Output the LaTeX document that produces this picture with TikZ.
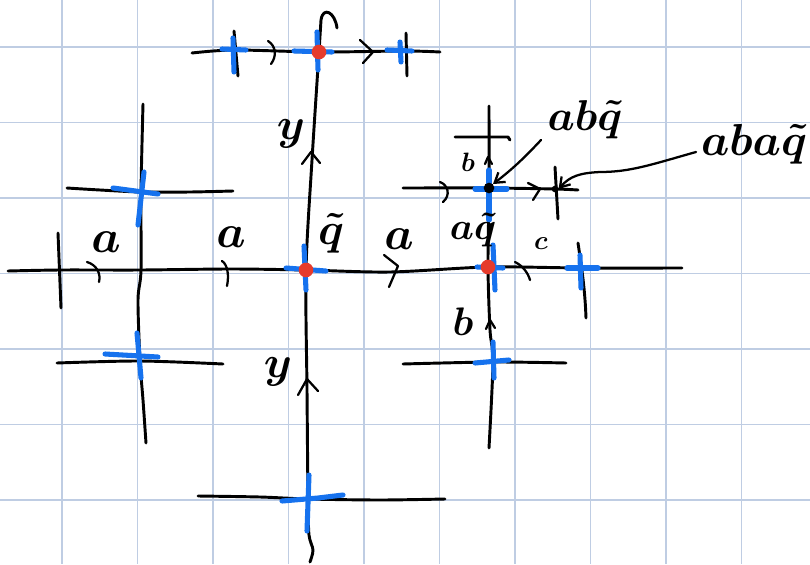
\documentclass[tikz,border=0pt]{standalone}
\usepackage{graphicx}
\usetikzlibrary{arrows.meta}
\definecolor{gridc}{HTML}{BFCDE3}
\definecolor{penblue}{HTML}{1672EE}
\definecolor{penred}{HTML}{E63B2C}
\newcommand{\lbl}[2]{\scalebox{#1}{\boldmath$#2$}}
\begin{document}
\begin{tikzpicture}[x=0.75pt,y=-0.75pt,
  ink/.style={line width=2.2pt,line cap=round,line join=round,black},
  thinink/.style={line width=1.7pt,line cap=round,line join=round,black},
  bluepen/.style={line width=3.8pt,line cap=round,penblue},
  reddot/.style={circle,fill=penred,inner sep=0pt,minimum size=11pt},
  blackdot/.style={circle,fill=black,inner sep=0pt,minimum size=8pt},
  lab/.style={inner sep=0pt,font=\fontsize{24.88}{30}\selectfont},
  pointer/.style={thinink,-{Straight Barb[length=7pt,width=9pt]}}]
\useasboundingbox (0,0) rectangle (810,564);
\fill[white] (0,0) rectangle (810,564);
% grid paper
\foreach \i in {0,...,9} \draw[gridc,line width=0.8pt] ({62+75.5*\i},0) -- ({62+75.5*\i},564);
\foreach \j in {0,...,6} \draw[gridc,line width=0.8pt] (0,{47+75.5*\j}) -- (810,{47+75.5*\j});

% vertices
\coordinate (T) at (319,52);
\coordinate (O) at (306,270);
\coordinate (A) at (488,267);
\coordinate (D) at (489,188);
\coordinate (E) at (555,189);
\coordinate (Bt) at (308,499);
\coordinate (L1) at (141,192);
\coordinate (L2) at (140,361);
\coordinate (R2) at (493,362);
\coordinate (RC) at (582,268);
\coordinate (TL) at (234,50);
\coordinate (TR) at (405,51);

% main horizontal line
\draw[ink] plot[smooth] coordinates {(8,271) (60,270) (141,270) (230,269) (O) (390,272) (A) (RC) (682,268)};
% central column
\draw[ink] (337,28) .. controls (335,12) and (323,6) .. (321,20) -- (T);
\draw[ink] plot[smooth] coordinates {(T) (312,160) (O) (307,390) (Bt) (309,535) (313,550) (310,562)};
\draw[thinink] (307,447) -- (307,455);
% top line
\draw[ink] plot[smooth] coordinates {(192,53) (TL) (T) (TR) (440,52)};
\draw[ink] (234,31) -- (238,76);
\draw[ink] (406,33) -- (407,76);
\draw[thinink] (268,41) .. controls (276,46) and (277,56) .. (271,64);
\draw[thinink] (360,40) -- (373,52) -- (363,63);
% left column
\draw[ink] plot[smooth] coordinates {(143,104) (L1) (141,270) (138,300) (L2) (143,400) (146,443)};
\draw[ink] plot[smooth] coordinates {(67,188) (100,190) (L1) (190,192) (233,191)};
\draw[ink] plot[smooth] coordinates {(57,363) (L2) (223,364)};
\draw[ink] (58,233) -- (61,308);
% marks on main line
\draw[thinink] (87,262) .. controls (97,265) and (101,274) .. (99,282);
\draw[thinink] (222,261) .. controls (228,265) and (229,276) .. (227,286);
\draw[thinink] (384,255) -- (398,266) -- (389,287);
\draw[thinink] (515,262) .. controls (523,266) and (528,273) .. (530,280);
% right column
\draw[ink] plot[smooth] coordinates {(489,106) (D) (A) (490,330) (R2) (489,448)};
\draw[ink] (455,137) -- (508,137) -- (510,140);
\draw[ink] plot[smooth] coordinates {(403,188) (D) (E) (578,190)};
\draw[thinink] (440,182) .. controls (448,185) and (451,195) .. (443,202);
\draw[thinink] (528,183) -- (540,189) -- (533,200);
\draw[ink] (555,167) -- (558,219);
\draw[thinink] (485,164) -- (488,157) -- (492,164);
\draw[ink] plot[smooth] coordinates {(403,364) (R2) (566,363)};
\draw[thinink] (486,329) -- (490,320) -- (495,328);
\draw[ink] (578,243) .. controls (582,270) and (585,290) .. (586,318);
% central arrows
\draw[thinink] (302,164) -- (311,152) -- (320,163);
\draw[thinink] (298,395) -- (307,379) -- (318,391);
% bottom line
\draw[ink] plot[smooth] coordinates {(198,496) (260,497) (Bt) (380,500) (445,499)};

% blue crosses
\draw[bluepen] (233,38) -- (234,72); \draw[bluepen] (222,49) -- (246,50);
\draw[bluepen] (317,32) -- (318,70); \draw[bluepen] (294,51) -- (332,52);
\draw[bluepen] (400,42) -- (401,62); \draw[bluepen] (387,50) -- (412,51);
\draw[bluepen] (144,172) -- (138,225); \draw[bluepen] (113,188) -- (158,194);
\draw[bluepen] (137,333) -- (141,378); \draw[bluepen] (105,354) -- (158,357);
\draw[bluepen] (304,246) -- (306,290); \draw[bluepen] (286,268) -- (326,271);
\draw[bluepen] (493,245) -- (495,290); \draw[bluepen] (477,267) -- (503,268);
\draw[bluepen] (580,255) -- (581,288); \draw[bluepen] (567,268) -- (598,268);
\draw[bluepen] (489,170) -- (489,220); \draw[bluepen] (475,189) -- (507,189);
\draw[bluepen] (493,342) -- (494,378); \draw[bluepen] (475,363) -- (509,360);
\draw[bluepen] (309,475) -- (307,531); \draw[bluepen] (282,501) -- (318,498) -- (343,495);

% dots
\node[reddot] (dT) at (T) {};
\node[reddot] (dO) at (O) {};
\node[reddot] (dA) at (A) {};
\node[blackdot] (dD) at (D) {};
\node[circle,fill=black,inner sep=0pt,minimum size=5pt] (dE) at (E) {};

% labels
\node[lab] (la1) at (106,242) {\lbl{1.4}{a}};
\node[lab] (la2) at (231,237) {\lbl{1.4}{a}};
\node[lab] (la3) at (399,239) {\lbl{1.4}{a}};
\node[lab] (lq) at (331,233) {\lbl{1.35}{\tilde q}};
\node[lab] (laq) at (473,230) {\lbl{1.15}{a\tilde q}};
\node[lab] (lc) at (541,244) {\lbl{0.8}{c}};
\node[lab] (ly1) at (291,134) {\lbl{1.35}{y}};
\node[lab] (ly2) at (278,372) {\lbl{1.35}{y}};
\node[lab] (lb1) at (463,322) {\lbl{1.2}{b}};
\node[lab] (lb2) at (468,162) {\lbl{0.8}{b}};
\node[lab] (labq) at (585,120) {\lbl{1.3}{ab\tilde q}};
\node[lab] (labaq) at (754,144) {\lbl{1.35}{aba\tilde q}};

% pointers
\draw[pointer] (541,140) .. controls (527,155) and (514,168) .. (dD.north east);
\draw[pointer] (696,152) .. controls (650,165) and (630,172) .. (600,172) .. controls (580,173) and (570,176) .. (dE.east);
\end{tikzpicture}
\end{document}
